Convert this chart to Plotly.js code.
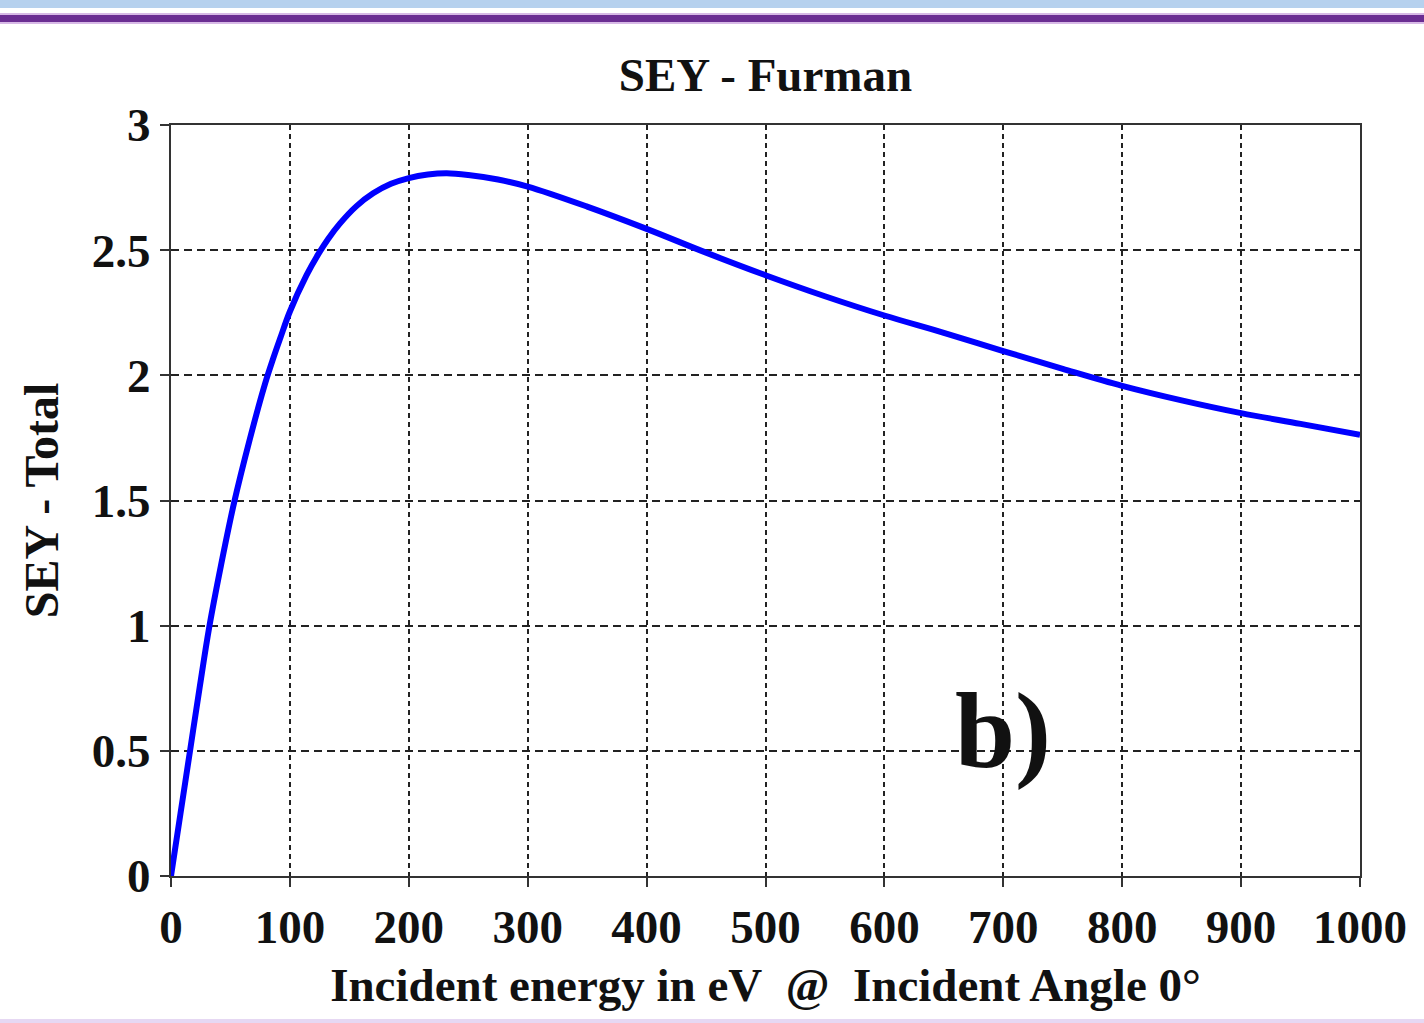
<!DOCTYPE html>
<html>
<head>
<meta charset="utf-8">
<script src="https://cdn.plot.ly/plotly-3.0.1.min.js"></script>
<style>
  html, body { margin: 0; padding: 0; background: #ffffff; }
  #chart { width: 1424px; height: 1023px; }
</style>
</head>
<body>
<div id="chart"></div>
<script>
// Incident energy (eV) and total SEY
const energyEV = [0, 8, 16, 24, 32, 42, 53, 66, 79, 86, 92, 100, 114, 124, 132, 142, 156, 170, 185, 200, 216, 232, 250, 275, 300, 350, 400, 450, 500, 550, 600, 650, 700, 750, 800, 850, 900, 950, 1000];
const seyTotal = [0, 0.25, 0.5, 0.75, 0.99, 1.24, 1.49, 1.74, 1.965, 2.068, 2.15, 2.255, 2.40, 2.485, 2.544, 2.606, 2.676, 2.727, 2.765, 2.788, 2.802, 2.807, 2.80, 2.782, 2.754, 2.674, 2.585, 2.49, 2.40, 2.316, 2.239, 2.17, 2.097, 2.026, 1.958, 1.90, 1.849, 1.806, 1.762];

const xTicks = [0, 100, 200, 300, 400, 500, 600, 700, 800, 900, 1000];
const yTicks = [0, 0.5, 1, 1.5, 2, 2.5, 3];
const yTickLabels = ['0', '0.5', '1', '1.5', '2', '2.5', '3'];

const chartTitle = 'SEY - Furman';
const xTitle = 'Incident energy in eV&nbsp;&nbsp;@&nbsp;&nbsp;Incident Angle 0°';
const yTitle = 'SEY - Total';
const panelLabel = 'b)';

const serif = '"Liberation Serif", "Times New Roman", Times, serif';

const trace = {
  x: energyEV,
  y: seyTotal,
  type: 'scatter',
  mode: 'lines',
  line: { color: '#0000ff', width: 6, shape: 'spline', smoothing: 1, simplify: false },
  hoverinfo: 'x+y',
  showlegend: false
};

// pixel -> paper helper for decorative bars (plot area spans y = 125..876 px)
const pyToPaper = py => (876 - py) / 751;

const layout = {
  width: 1424,
  height: 1023,
  autosize: false,
  margin: { l: 171, r: 64, t: 125, b: 147 },
  paper_bgcolor: '#ffffff',
  plot_bgcolor: '#ffffff',
  title: {
    text: chartTitle,
    font: { family: serif, size: 47, color: '#111111', weight: 700 },
    xref: 'paper', x: 0.5, xanchor: 'center',
    yref: 'container', y: 1 - 75 / 1023, yanchor: 'middle'
  },
  xaxis: {
    range: [0, 1000],
    tickvals: xTicks,
    ticktext: xTicks.map(String),
    tickfont: { family: serif, size: 47, color: '#111111', weight: 700 },
    ticks: 'outside', ticklen: 9, tickwidth: 2, tickcolor: '#333333',
    showline: true, linecolor: '#333333', linewidth: 2, mirror: true,
    showgrid: true, gridcolor: '#222222', gridwidth: 2, griddash: '5px,4px',
    zeroline: false,
    title: {
      text: xTitle,
      font: { family: serif, size: 47, color: '#111111', weight: 700 },
      standoff: 16
    },
    fixedrange: true
  },
  yaxis: {
    range: [0, 3],
    tickvals: yTicks,
    ticktext: yTickLabels,
    tickfont: { family: serif, size: 47, color: '#111111', weight: 700 },
    ticks: 'outside', ticklen: 9, tickwidth: 2, tickcolor: '#333333',
    showline: true, linecolor: '#333333', linewidth: 2, mirror: true,
    showgrid: true, gridcolor: '#222222', gridwidth: 2, griddash: '8px,5px',
    zeroline: false,
    title: {
      text: yTitle,
      font: { family: serif, size: 48, color: '#111111', weight: 700 },
      standoff: 18
    },
    fixedrange: true
  },
  annotations: [{
    text: panelLabel,
    x: 700, y: 0.58, xref: 'x', yref: 'y',
    xanchor: 'center', yanchor: 'middle',
    showarrow: false,
    font: { family: serif, size: 108, color: '#111111', weight: 700 }
  }],
  shapes: [
    { type: 'rect', xref: 'paper', yref: 'paper', x0: -0.2, x1: 1.1, y0: pyToPaper(8), y1: pyToPaper(0),
      fillcolor: '#b6d1ee', line: { width: 0 }, layer: 'below' },
    { type: 'rect', xref: 'paper', yref: 'paper', x0: -0.2, x1: 1.1, y0: pyToPaper(24), y1: pyToPaper(13),
      fillcolor: '#d7b9e6', line: { width: 0 }, layer: 'below' },
    { type: 'rect', xref: 'paper', yref: 'paper', x0: -0.2, x1: 1.1, y0: pyToPaper(22), y1: pyToPaper(15),
      fillcolor: '#6a2d92', line: { width: 0 }, layer: 'below' },
    { type: 'rect', xref: 'paper', yref: 'paper', x0: -0.2, x1: 1.1, y0: pyToPaper(1023), y1: pyToPaper(1019),
      fillcolor: '#e6d8f3', line: { width: 0 }, layer: 'below' }
  ]
};

Plotly.newPlot('chart', [trace], layout, { displayModeBar: false, staticPlot: true });
</script>
</body>
</html>
